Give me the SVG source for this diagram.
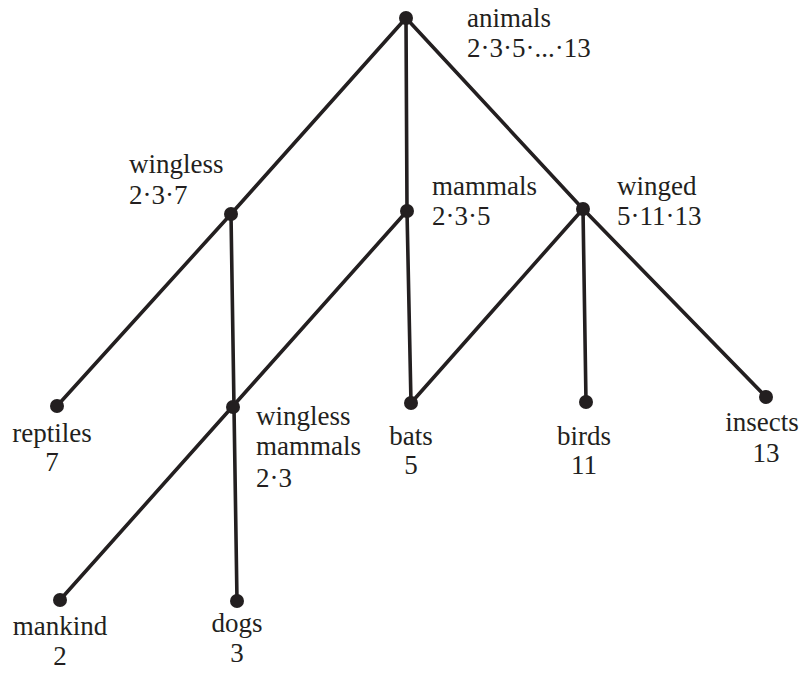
<svg xmlns="http://www.w3.org/2000/svg" width="809" height="677" viewBox="0 0 809 677">
<style>
.e{stroke:#231f20;stroke-width:3.6;stroke-linecap:round;fill:none}
.d{fill:#231f20}
.t{fill:#231f20}
.c{text-anchor:middle}
</style>
<rect width="809" height="677" fill="#fff"/>
<g id="connectors">
<line class="e" x1="406" y1="18" x2="231" y2="214"/>
<line class="e" x1="406" y1="18" x2="407" y2="211"/>
<line class="e" x1="406" y1="18" x2="583" y2="209"/>
<line class="e" x1="231" y1="214" x2="57" y2="406"/>
<line class="e" x1="231" y1="214" x2="237" y2="601"/>
<line class="e" x1="407" y1="211" x2="60" y2="600"/>
<line class="e" x1="407" y1="211" x2="411" y2="403"/>
<line class="e" x1="583" y1="209" x2="411" y2="403"/>
<line class="e" x1="583" y1="209" x2="586" y2="402"/>
<line class="e" x1="583" y1="209" x2="766" y2="397"/>
</g>
<g font-family="Liberation Serif, Times New Roman, serif" font-size="27" fill="#231f20">
<g id="animals"><circle class="d" cx="406" cy="18" r="7"/><text x="467" y="27">animals</text><text x="467" y="57">2·3·5·...·13</text></g>
<g id="wingless"><circle class="d" cx="231" cy="214" r="7"/><text x="129" y="173">wingless</text><text x="129" y="204">2·3·7</text></g>
<g id="mammals"><circle class="d" cx="407" cy="211" r="7"/><text x="432" y="195">mammals</text><text x="432" y="225">2·3·5</text></g>
<g id="winged"><circle class="d" cx="583" cy="209" r="7"/><text x="617" y="195">winged</text><text x="617" y="225">5·11·13</text></g>
<g id="reptiles"><circle class="d" cx="57" cy="406" r="7"/><text class="c" x="52" y="442">reptiles</text><text class="c" x="52" y="471">7</text></g>
<g id="wingless-mammals"><circle class="d" cx="233" cy="407" r="7"/><text x="256" y="425">wingless</text><text x="256" y="455">mammals</text><text x="256" y="487">2·3</text></g>
<g id="bats"><circle class="d" cx="411" cy="403" r="7"/><text class="c" x="411" y="445">bats</text><text class="c" x="411" y="474">5</text></g>
<g id="birds"><circle class="d" cx="586" cy="402" r="7"/><text class="c" x="584" y="445">birds</text><text class="c" x="584" y="474">11</text></g>
<g id="insects"><circle class="d" cx="766" cy="397" r="7"/><text class="c" x="762" y="431">insects</text><text class="c" x="766" y="462">13</text></g>
<g id="mankind"><circle class="d" cx="60" cy="600" r="7"/><text class="c" x="60" y="635">mankind</text><text class="c" x="60" y="665">2</text></g>
<g id="dogs"><circle class="d" cx="237" cy="601" r="7"/><text class="c" x="237" y="632">dogs</text><text class="c" x="237" y="662">3</text></g>
</g>
</svg>
